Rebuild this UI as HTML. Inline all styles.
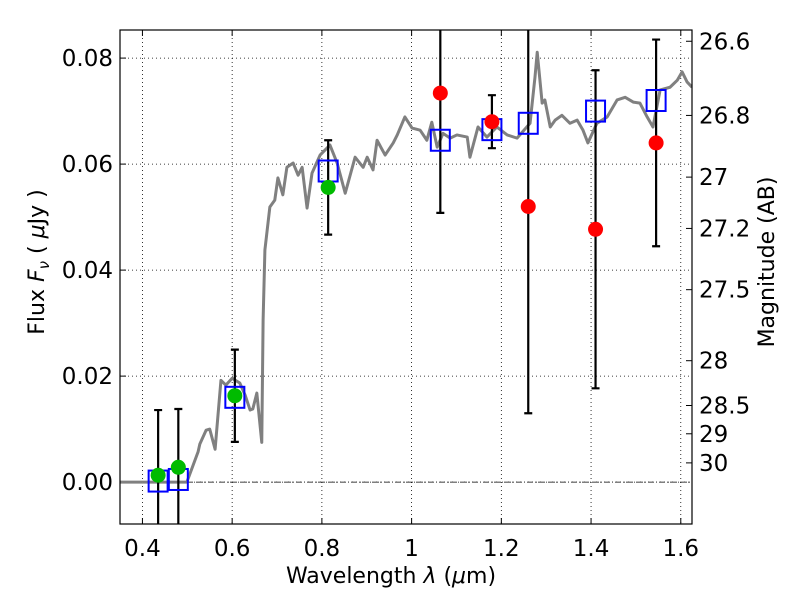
<!DOCTYPE html>
<html><head><meta charset="utf-8"><style>
body{margin:0;background:#fff}
svg text{font-family:"DejaVu Sans","Liberation Sans",sans-serif;fill:#000}
</style></head><body>
<svg id="c" width="800" height="600" xmlns="http://www.w3.org/2000/svg"></svg>
<script>
const xTicks=[0.4,0.6,0.8,1.0,1.2,1.4,1.6];
const xTickLabels=["0.4","0.6","0.8","1","1.2","1.4","1.6"];
const yTicks=[0,0.02,0.04,0.06,0.08];
const yTickLabels=["0.00","0.02","0.04","0.06","0.08"];
const magTicks=[26.6,26.8,27,27.2,27.5,28,28.5,29,30];
const magLabels=["26.6","26.8","27","27.2","27.5","28","28.5","29","30"];
const specX=[0.350,0.499,0.524,0.528,0.542,0.550,0.562,0.575,0.586,0.600,0.617,0.629,0.640,0.646,0.655,0.666,0.669,0.673,0.684,0.695,0.702,0.713,0.722,0.736,0.747,0.756,0.767,0.778,0.796,0.818,0.834,0.852,0.874,0.892,0.901,0.914,0.923,0.941,0.959,0.968,0.985,1.001,1.019,1.034,1.045,1.057,1.070,1.086,1.101,1.124,1.130,1.148,1.168,1.190,1.213,1.235,1.264,1.275,1.280,1.291,1.297,1.309,1.320,1.335,1.353,1.369,1.382,1.393,1.413,1.436,1.458,1.476,1.494,1.509,1.525,1.538,1.554,1.576,1.592,1.603,1.614,1.625];
const specY=[0,0,0.0057,0.0072,0.0098,0.0100,0.0062,0.0192,0.0183,0.0196,0.0187,0.0164,0.0136,0.0138,0.0168,0.0075,0.0306,0.0438,0.0519,0.0532,0.0574,0.0542,0.0594,0.0602,0.0579,0.0594,0.0517,0.0583,0.0617,0.0636,0.0602,0.0545,0.0613,0.0594,0.0613,0.0589,0.0645,0.0617,0.0640,0.0655,0.0689,0.0668,0.0664,0.0645,0.0679,0.0632,0.0658,0.0649,0.0655,0.0651,0.0613,0.0670,0.0651,0.0670,0.0655,0.0649,0.0677,0.0764,0.0811,0.0715,0.0721,0.0670,0.0683,0.0692,0.0677,0.0683,0.0664,0.0640,0.0677,0.0689,0.0721,0.0726,0.0717,0.0715,0.0689,0.0670,0.0740,0.0745,0.0758,0.0774,0.0755,0.0745];
const obsWave=[0.435,0.48,0.606,0.814,1.064,1.179,1.26,1.41,1.545];
const obsFlux=[0.0013,0.0028,0.0163,0.0556,0.0734,0.0680,0.0520,0.0477,0.0640];
const obsErr=[0.0123,0.0110,0.0087,0.0089,0.0226,0.0050,0.0390,0.0300,0.0195];
const obsColor=["#00bb00","#00bb00","#00bb00","#00bb00","#ff0000","#ff0000","#ff0000","#ff0000","#ff0000"];
const modelFlux=[0.0002,0.0005,0.0160,0.0587,0.0645,0.0665,0.0677,0.0700,0.0720];

const L=120,R=692,T=30,B=524;
const xMin=0.35,xMax=1.625,yMin=-0.0079,yMax=0.0853;
const sx=v=>L+(v-xMin)/(xMax-xMin)*(R-L);
const sy=v=>B-(v-yMin)/(yMax-yMin)*(B-T);
const svg=document.getElementById('c');
const NS="http://www.w3.org/2000/svg";
function mk(tag,attrs,parent){const e=document.createElementNS(NS,tag);for(const k in attrs)e.setAttribute(k,attrs[k]);(parent||svg).appendChild(e);return e;}
const clip=mk('clipPath',{id:'pc'});mk('rect',{x:L,y:T,width:R-L,height:B-T},clip);
xTicks.forEach((t,i)=>{
 const g=mk('line',{x1:sx(t),x2:sx(t),y1:T,y2:B,stroke:'#000','stroke-width':0.8,'stroke-dasharray':'1,3'});
 
 
 mk('line',{x1:sx(t),x2:sx(t),y1:B,y2:B-6,stroke:'#000'});
 mk('line',{x1:sx(t),x2:sx(t),y1:T,y2:T+6,stroke:'#000'});
 const tx=mk('text',{x:sx(t),y:B+32,'font-size':23,'text-anchor':'middle'});tx.textContent=xTickLabels[i];
 
 
});
yTicks.forEach((t,i)=>{
 const g=mk('line',{x1:L,x2:R,y1:sy(t),y2:sy(t),stroke:'#000','stroke-width':0.8,'stroke-dasharray':'1,3'});
 
 
 mk('line',{x1:L,x2:L+6,y1:sy(t),y2:sy(t),stroke:'#000'});
 const tx=mk('text',{x:L-7,y:sy(t)+8,'font-size':23,'text-anchor':'end'});tx.textContent=yTickLabels[i];
 
 
});
magTicks.forEach((m,i)=>{
 const f=Math.pow(10,(23.9-m)/2.5);const y=sy(f);
 mk('line',{x1:R,x2:R-6,y1:y,y2:y,stroke:'#000'});
 const tx=mk('text',{x:R+7,y:y+8,'font-size':23});tx.textContent=magLabels[i];
 
 
});
const z=mk('line',{x1:L,x2:R,y1:sy(0),y2:sy(0),stroke:'#000','stroke-width':0.8,'stroke-dasharray':'6,2,1,2'});


const sp=mk('polyline',{points:specX.map((x,i)=>sx(x)+','+sy(specY[i])).join(' '),fill:'none',stroke:'#808080','stroke-width':3,'stroke-linejoin':'round','clip-path':'url(#pc)'});


const eg=mk('g',{'clip-path':'url(#pc)'});
obsWave.forEach((w,i)=>{
 const x=sx(w),y1=sy(obsFlux[i]-obsErr[i]),y2=sy(obsFlux[i]+obsErr[i]);
 const e=mk('path',{d:`M${x},${y1}V${y2}M${x-4},${y1}H${x+4}M${x-4},${y2}H${x+4}`,stroke:'#000','stroke-width':2.2,fill:'none'},eg);
 
 
});
obsWave.forEach((w,i)=>{
 const s=mk('rect',{x:sx(w)-9.5,y:sy(modelFlux[i])-10.5,width:19,height:21,fill:'none',stroke:'#0000ff','stroke-width':2},eg);
 
 
});
obsWave.forEach((w,i)=>{
 const c=mk('circle',{cx:sx(w),cy:sy(obsFlux[i]),r:7.5,fill:obsColor[i]},eg);
 
 
});
const fr=mk('rect',{x:L,y:T,width:R-L,height:B-T,fill:'none',stroke:'#000','stroke-width':1.2});


const xl=mk('text',{x:391,y:583,'font-size':22,'text-anchor':'middle'});
xl.innerHTML='Wavelength  <tspan font-style="italic">λ</tspan> (<tspan font-style="italic">μ</tspan>m)';


const yl=mk('text',{x:0,y:0,'font-size':22,'text-anchor':'middle',transform:'translate(44,262) rotate(-90)'});
yl.innerHTML='Flux  <tspan font-style="italic">F</tspan><tspan font-style="italic" font-size="15" dy="5">ν</tspan><tspan dy="-5">  (  </tspan><tspan font-style="italic">μ</tspan>Jy )';


const rl=mk('text',{x:0,y:0,'font-size':22,'text-anchor':'middle',transform:'translate(774,262) rotate(-90)'});
rl.textContent='Magnitude (AB)';


</script>
</body></html>
